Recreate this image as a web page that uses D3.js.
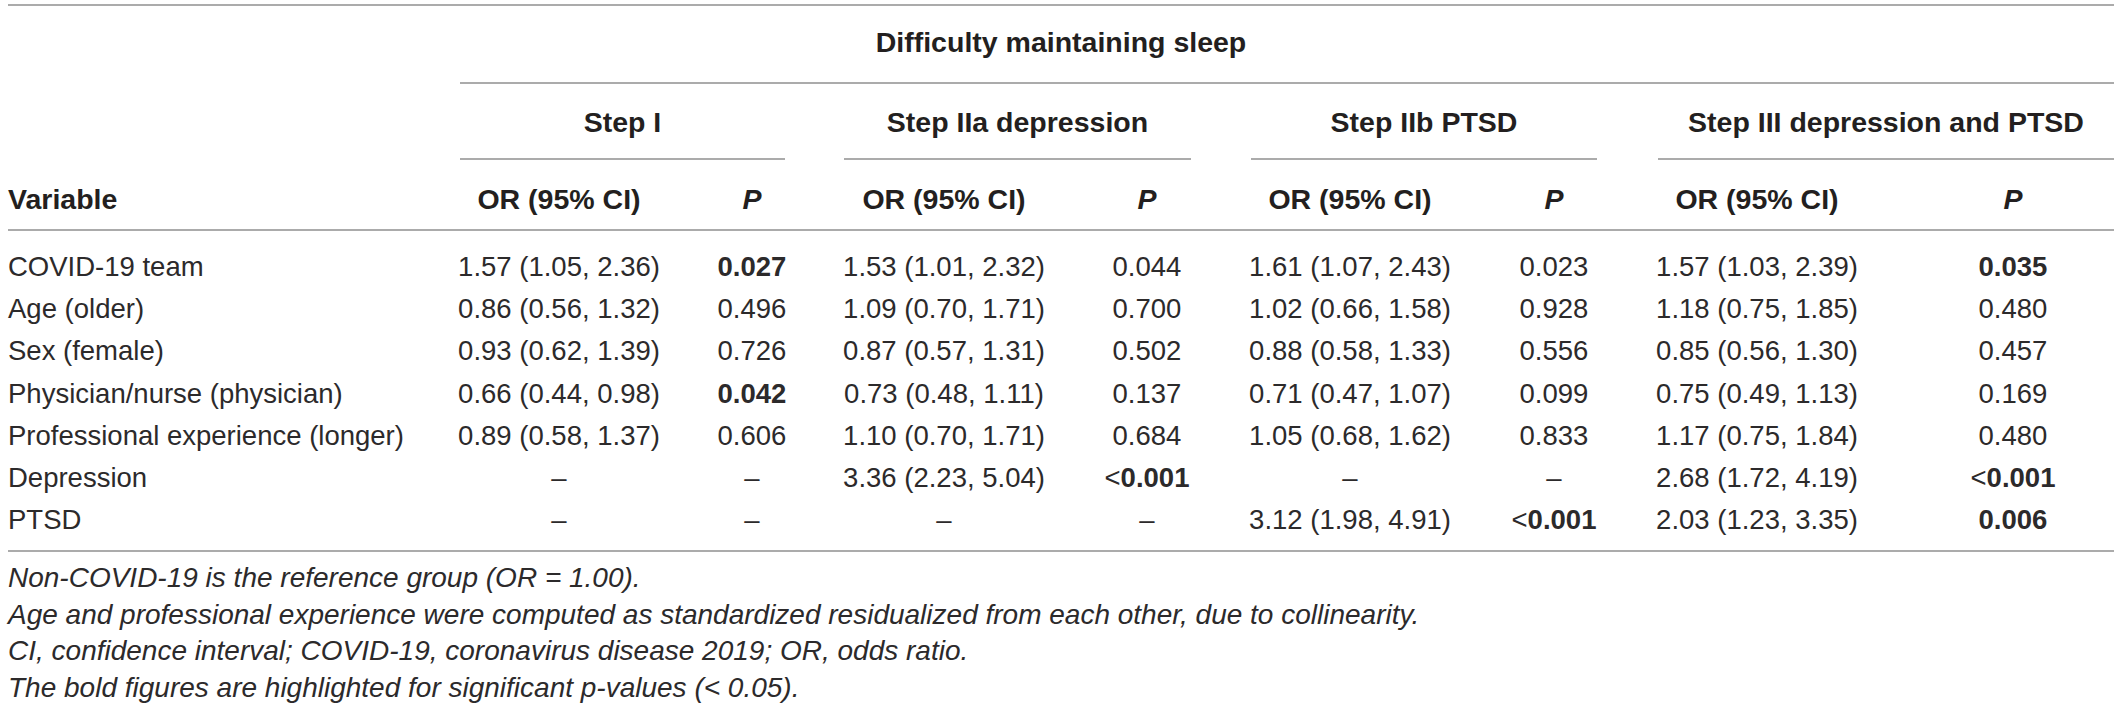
<!DOCTYPE html>
<html>
<head>
	<title>Difficulty maintaining sleep</title>
	<meta charset="utf-8">
	<script src="https://cdnjs.cloudflare.com/ajax/libs/d3/7.8.5/d3.min.js"></script>
	<style>
		body { margin: 0; background: #fff; }
		text { font-family: "Liberation Sans", Arial, sans-serif; fill: #231f20; }
		.rowLabel, .cell, .foot { fill: #2c2a2b; }
		.rule { stroke: #8f8f8f; stroke-width: 1.6; }
	</style>
</head>
<body>
	<div id="chartDiv"></div>
	<script>

		const title = 'Difficulty maintaining sleep';
		const steps = ['Step I', 'Step IIa depression', 'Step IIb PTSD', 'Step III depression and PTSD'];
		const variables = ['COVID-19 team', 'Age (older)', 'Sex (female)', 'Physician/nurse (physician)',
			'Professional experience (longer)', 'Depression', 'PTSD'];

		// OR (95% CI) and P per step, row order as variables
		const orStep1  = ['1.57 (1.05, 2.36)', '0.86 (0.56, 1.32)', '0.93 (0.62, 1.39)', '0.66 (0.44, 0.98)', '0.89 (0.58, 1.37)', '–', '–'];
		const pStep1   = ['0.027', '0.496', '0.726', '0.042', '0.606', '–', '–'];
		const orStep2a = ['1.53 (1.01, 2.32)', '1.09 (0.70, 1.71)', '0.87 (0.57, 1.31)', '0.73 (0.48, 1.11)', '1.10 (0.70, 1.71)', '3.36 (2.23, 5.04)', '–'];
		const pStep2a  = ['0.044', '0.700', '0.502', '0.137', '0.684', '<0.001', '–'];
		const orStep2b = ['1.61 (1.07, 2.43)', '1.02 (0.66, 1.58)', '0.88 (0.58, 1.33)', '0.71 (0.47, 1.07)', '1.05 (0.68, 1.62)', '–', '3.12 (1.98, 4.91)'];
		const pStep2b  = ['0.023', '0.928', '0.556', '0.099', '0.833', '–', '<0.001'];
		const orStep3  = ['1.57 (1.03, 2.39)', '1.18 (0.75, 1.85)', '0.85 (0.56, 1.30)', '0.75 (0.49, 1.13)', '1.17 (0.75, 1.84)', '2.68 (1.72, 4.19)', '2.03 (1.23, 3.35)'];
		const pStep3   = ['0.035', '0.480', '0.457', '0.169', '0.480', '<0.001', '0.006'];

		// which P values are printed bold (as in the source table)
		const boldStep1  = [true, false, false, true, false, false, false];
		const boldStep2a = [false, false, false, false, false, true, false];
		const boldStep2b = [false, false, false, false, false, false, true];
		const boldStep3  = [true, false, false, false, false, true, true];

		const footnotes = [
			'Non-COVID-19 is the reference group (OR = 1.00).',
			'Age and professional experience were computed as standardized residualized from each other, due to collinearity.',
			'CI, confidence interval; COVID-19, coronavirus disease 2019; OR, odds ratio.',
			'The bold figures are highlighted for significant p-values (< 0.05).'
		];

		const width = 2120, height = 711;
		const left = 8, right = 2114;

		const columns = [
			{ key: 's1or', values: orStep1,  head: 'OR (95% CI)' },
			{ key: 's1p',  values: pStep1,   head: 'P', bold: boldStep1 },
			{ key: 's2aor', values: orStep2a, head: 'OR (95% CI)' },
			{ key: 's2ap', values: pStep2a,  head: 'P', bold: boldStep2a },
			{ key: 's2bor', values: orStep2b, head: 'OR (95% CI)' },
			{ key: 's2bp', values: pStep2b,  head: 'P', bold: boldStep2b },
			{ key: 's3or', values: orStep3,  head: 'OR (95% CI)' },
			{ key: 's3p',  values: pStep3,   head: 'P', bold: boldStep3 }
		];

		const svg = d3.select('#chartDiv').append('svg')
			.attr('width', width)
			.attr('height', height);

		// column centres
		const xCol = d3.scaleOrdinal()
			.domain(columns.map(c => c.key))
			.range([559, 752, 944, 1147, 1350, 1554, 1757, 2013]);

		// step spans (under-rules)
		const xStep = d3.scaleOrdinal()
			.domain(steps)
			.range([[460, 785], [844, 1191], [1251, 1597], [1658, right]]);

		// row baselines
		const yRow = d3.scalePoint()
			.domain(variables)
			.range([276, 529]);

		const yFoot = d3.scalePoint()
			.domain(d3.range(footnotes.length))
			.range([587, 697]);

		//rules
		const hRule = (x1, x2, y) => svg.append('line').attr('class', 'rule')
			.attr('x1', x1).attr('x2', x2).attr('y1', y).attr('y2', y);

		hRule(left, right, 5);
		hRule(460, right, 83);
		steps.forEach(s => hRule(xStep(s)[0], xStep(s)[1], 159));
		hRule(left, right, 230);
		hRule(left, right, 551);

		//title
		svg.append('text')
			.attr('x', (left + right) / 2)
			.attr('y', 52)
			.attr('text-anchor', 'middle')
			.style('font-size', '28.5px')
			.style('font-weight', 'bold')
			.text(title);

		//step headers
		svg.selectAll('.stepHead')
			.data(steps)
			.enter().append('text')
			.attr('class', 'stepHead')
			.attr('x', d => (xStep(d)[0] + xStep(d)[1]) / 2)
			.attr('y', 132)
			.attr('text-anchor', 'middle')
			.style('font-size', '28.5px')
			.style('font-weight', 'bold')
			.text(d => d);

		//column headers
		svg.append('text')
			.attr('x', left)
			.attr('y', 209)
			.style('font-size', '28.5px')
			.style('font-weight', 'bold')
			.text('Variable');

		svg.selectAll('.colHead')
			.data(columns)
			.enter().append('text')
			.attr('class', 'colHead')
			.attr('x', d => xCol(d.key))
			.attr('y', 209)
			.attr('text-anchor', 'middle')
			.style('font-size', '28.5px')
			.style('font-weight', 'bold')
			.style('font-style', d => d.head === 'P' ? 'italic' : 'normal')
			.text(d => d.head);

		//row labels
		svg.selectAll('.rowLabel')
			.data(variables)
			.enter().append('text')
			.attr('class', 'rowLabel')
			.attr('x', left)
			.attr('y', d => yRow(d))
			.style('font-size', '27.5px')
			.text(d => d);

		//cells
		const cells = [];
		columns.forEach(c => {
			c.values.forEach((v, i) => {
				cells.push({ key: c.key, row: variables[i], value: v, bold: c.bold ? c.bold[i] : false });
			});
		});

		const cellText = svg.selectAll('.cell')
			.data(cells)
			.enter().append('text')
			.attr('class', 'cell')
			.attr('x', d => xCol(d.key))
			.attr('y', d => yRow(d.row))
			.attr('text-anchor', 'middle')
			.style('font-size', '27.5px');

		// "<" stays regular even in bold cells
		cellText.each(function(d) {
			const t = d3.select(this);
			if (d.value.startsWith('<')) {
				t.append('tspan').text('<');
				t.append('tspan').style('font-weight', d.bold ? 'bold' : 'normal').text(d.value.slice(1));
			} else {
				t.style('font-weight', d.bold ? 'bold' : 'normal').text(d.value);
			}
		});

		//footnotes
		svg.selectAll('.foot')
			.data(footnotes)
			.enter().append('text')
			.attr('class', 'foot')
			.attr('x', left)
			.attr('y', (d, i) => yFoot(i))
			.style('font-size', '28px')
			.style('font-style', 'italic')
			.text(d => d);

	</script>
</body>
</html>
